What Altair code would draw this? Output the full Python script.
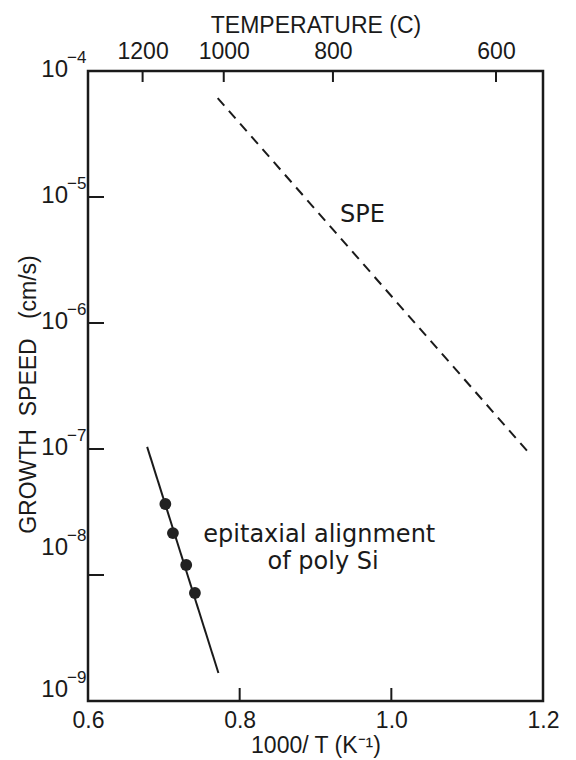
import altair as alt
import pandas as pd

# ---- data ----
spe_x = [0.771, 1.1815]
spe_y = [6.1e-5, 9.3e-8]
epi_line_x = [0.678, 0.772]
epi_line_y = [1.04e-7, 1.67e-9]
epi_pts_x = [0.702, 0.712, 0.7295, 0.741]
epi_pts_y = [3.66e-8, 2.15e-8, 1.20e-8, 7.2e-9]

x_label_vals = [0.6, 0.8, 1.0, 1.2]
x_tick_vals = [0.8, 1.0]
y_label_vals = [1e-4, 1e-5, 1e-6, 1e-7, 1e-8, 1e-9]
y_label_base = ["10", "10", "10", "10", "10", "10"]
y_label_exp = ["−4", "−5", "−6", "−7", "−8", "−9"]
y_tick_vals = [1e-5, 1e-6, 1e-7, 1e-8]
temp_pos = [0.672, 0.779, 0.923, 1.138]
temp_text = ["1200", "1000", "800", "600"]

notes = ["SPE", "epitaxial alignment", "of poly Si"]
notes_x = [0.962, 0.905, 0.910]
notes_y = [7.2e-6, 2.07e-8, 1.27e-8]

FONT = "Liberation Sans"
NOTE_FONT = "DejaVu Sans"
INK = "#1a1a1a"
W, H = 455, 630

xscale = alt.Scale(domain=[0.6, 1.2], nice=False, zero=False)
yscale = alt.Scale(type="log", domain=[1e-9, 1e-4], nice=False)


def cond_expr(vals, texts):
    expr = "''"
    for v, t in reversed(list(zip(vals, texts))):
        expr = f"(abs(datum.value - {v}) < 0.0005 ? '{t}' : {expr})"
    return expr


spe_df = pd.DataFrame({"x": spe_x, "y": spe_y})
epi_df = pd.DataFrame({"x": epi_line_x, "y": epi_line_y})
pts_df = pd.DataFrame({"x": epi_pts_x, "y": epi_pts_y})
xt_df = pd.DataFrame({"x": x_tick_vals})
yt_df = pd.DataFrame({"y": y_tick_vals})
tt_df = pd.DataFrame({"x": temp_pos})
yl_df = pd.DataFrame({"y": y_label_vals, "b": y_label_base, "e": y_label_exp})
notes_df = pd.DataFrame({"t": notes, "x": notes_x, "y": notes_y})
frame_df = pd.DataFrame({"x": [0.6], "x2": [1.2], "y": [1e-9], "y2": [1e-4]})

common = dict(labelFont=FONT, labelFontSize=23, labelColor=INK, titleFont=FONT,
              titleFontSize=23, titleFontWeight="normal", titleColor=INK,
              grid=False, domain=False, tickSize=0, labelFlush=False)

bottom_axis = alt.Axis(orient="bottom", values=x_label_vals, format=".1f",
                       labelPadding=8, title="1000/ T (K⁻¹)", titlePadding=2, **common)
left_axis = alt.Axis(orient="left", values=y_label_vals, labels=False,
                     title="GROWTH\u00a0\u00a0SPEED\u00a0\u00a0\u00a0(cm/s)",
                     titleX=-60, titleY=323, titleBaseline="middle", titleAngle=270,
                     **common)
top_axis = alt.Axis(orient="top", values=temp_pos,
                    labelExpr=cond_expr(temp_pos, temp_text), labelPadding=8,
                    title="TEMPERATURE (C)", titleY=-46, titleBaseline="middle",
                    **common)

frame = alt.Chart(frame_df).mark_rect(fill=None, stroke=INK, strokeWidth=2.5).encode(
    x=alt.X("x:Q", scale=xscale, axis=bottom_axis),
    x2="x2:Q",
    y=alt.Y("y:Q", scale=yscale, axis=left_axis),
    y2="y2:Q",
)
spe = alt.Chart(spe_df).mark_line(color=INK, strokeWidth=2, strokeDash=[10, 7]).encode(
    x=alt.X("x:Q", scale=xscale, axis=None),
    y=alt.Y("y:Q", scale=yscale, axis=None),
)
epi = alt.Chart(epi_df).mark_line(color=INK, strokeWidth=2).encode(
    x=alt.X("x:Q", scale=xscale, axis=None),
    y=alt.Y("y:Q", scale=yscale, axis=None),
)
pts = alt.Chart(pts_df).mark_point(filled=True, color="#222", opacity=1, size=140).encode(
    x=alt.X("x:Q", scale=xscale, axis=None),
    y=alt.Y("y:Q", scale=yscale, axis=None),
)
bottom_ticks = alt.Chart(xt_df).mark_rule(color=INK, strokeWidth=2).encode(
    x=alt.X("x:Q", scale=xscale, axis=None),
    y=alt.value(H), y2=alt.value(H - 13),
)
left_ticks = alt.Chart(yt_df).mark_rule(color=INK, strokeWidth=2).encode(
    y=alt.Y("y:Q", scale=yscale, axis=None),
    x=alt.value(0), x2=alt.value(16),
)
top_ticks = alt.Chart(tt_df).mark_rule(color=INK, strokeWidth=2).encode(
    x=alt.X("x:Q", scale=xscale, axis=top_axis),
    y=alt.value(0), y2=alt.value(11),
)


def y_labels(filter_expr, lift):
    base = alt.Chart(yl_df).transform_filter(filter_expr)
    b = base.mark_text(font=FONT, fontSize=24, color=INK, align="right",
                       baseline="middle", dy=-1 - lift).encode(
        y=alt.Y("y:Q", scale=yscale, axis=None),
        x=alt.value(-20),
        text="b:N",
    )
    e = base.mark_text(font=FONT, fontSize=17, color=INK, align="left",
                       baseline="middle", dy=-13 - lift).encode(
        y=alt.Y("y:Q", scale=yscale, axis=None),
        x=alt.value(-21),
        text="e:N",
    )
    return [b, e]


ylabs = (y_labels("datum.y > 5e-8", 0)
         + y_labels("datum.y < 5e-8 && datum.y > 5e-9", 26)
         + y_labels("datum.y < 5e-9", 10))

texts = alt.Chart(notes_df).mark_text(font=NOTE_FONT, fontSize=24, color=INK).encode(
    x=alt.X("x:Q", scale=xscale, axis=None),
    y=alt.Y("y:Q", scale=yscale, axis=None),
    text="t:N",
)

chart = (
    alt.layer(frame, spe, epi, pts, bottom_ticks, left_ticks, top_ticks,
              *ylabs, texts)
    .resolve_axis(x="independent", y="independent")
    .properties(
        width=W, height=H,
        autosize=alt.AutoSizeParams(type="none"),
        padding={"left": 80, "top": 63, "right": 20, "bottom": 58},
    )
    .configure_view(stroke=None)
    .configure(background="white")
)

chart.save("out.html", embed_options={"renderer": "svg", "actions": False})
